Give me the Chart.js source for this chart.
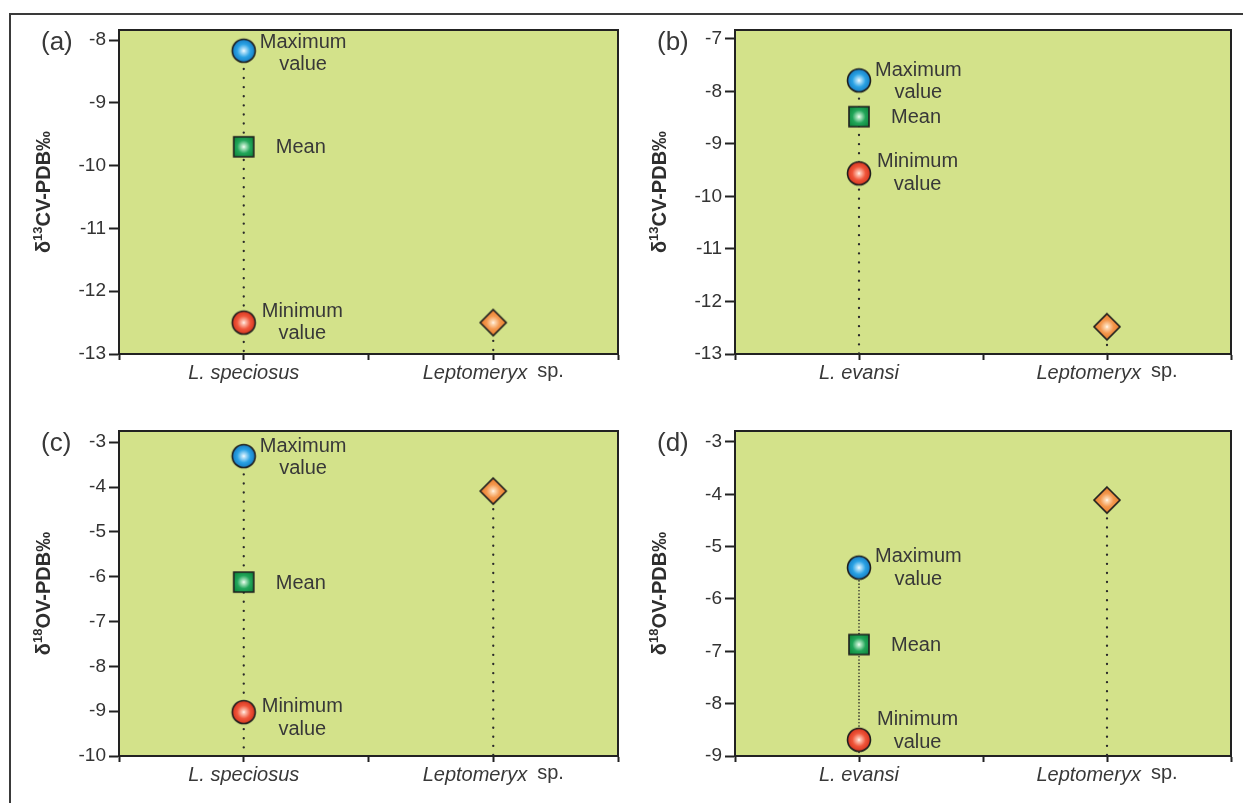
<!DOCTYPE html>
<html>
<head>
<meta charset="utf-8">
<script src="https://cdn.jsdelivr.net/npm/chart.js@4.4.0/dist/chart.umd.min.js"></script>
<style>
    html, body { margin: 0; padding: 0; background: #fff; }
    #page { position: relative; width: 1243px; height: 803px; overflow: hidden; background: #fff; }
    #frame { position: absolute; left: 9px; top: 13px; width: 1300px; height: 900px;
             border-top: 2px solid #3a3a3a; border-left: 2px solid #3a3a3a; }
    canvas { position: absolute; }
</style>
</head>
<body>
<div id="page">
    <div id="frame"></div>
    <canvas id="chart-a" width="610" height="385" style="left:20px;top:15px"></canvas>
    <canvas id="chart-b" width="603" height="385" style="left:640px;top:15px"></canvas>
    <canvas id="chart-c" width="610" height="385" style="left:20px;top:416px"></canvas>
    <canvas id="chart-d" width="603" height="385" style="left:640px;top:416px"></canvas>
</div>
<script>
// Data
const panelLabels = ['(a)', '(b)', '(c)', '(d)'];
const isotopeMass = ['13', '13', '18', '18'];
const isotopeElement = ['C', 'C', 'O', 'O'];
const speciesNames = [
    ['L. speciosus', 'Leptomeryx'],
    ['L. evansi', 'Leptomeryx'],
    ['L. speciosus', 'Leptomeryx'],
    ['L. evansi', 'Leptomeryx']
];
const speciesSuffix = ['', 'sp.'];
const categoryPositions = [1, 3];
const xTicks = [0, 1, 2, 3, 4];

const maxValues = [-8.17, -7.79, -3.31, -5.40];
const meanValues = [-9.70, -8.48, -6.12, -6.87];
const minValues = [-12.50, -9.56, -9.02, -8.69];
const leptoValues = [-12.50, -12.48, -4.09, -4.11];

const yTicks = [
    [-13, -12, -11, -10, -9, -8],
    [-13, -12, -11, -10, -9, -8, -7],
    [-10, -9, -8, -7, -6, -5, -4, -3],
    [-9, -8, -7, -6, -5, -4, -3]
];
const yTops = [-7.84, -6.83, -2.75, -2.79];

// Layout / styling
const FONT = '"Liberation Sans", Arial, sans-serif';
const TEXT = '#383838';
const PLOT_BG = 'rgb(211, 226, 138)';
const canvasIds = ['chart-a', 'chart-b', 'chart-c', 'chart-d'];
const frames = [
    { yWidth: 99, xHeight: 46, padRight: 6 },
    { yWidth: 95, xHeight: 46, padRight: 3 },
    { yWidth: 99, xHeight: 45, padRight: 6 },
    { yWidth: 95, xHeight: 45, padRight: 3 }
];
// vertical offsets of the two-line notes relative to their marker
const noteOffsets = [
    { max: [-8, 14], min: [-11, 11] },
    { max: [-10, 12], min: [-12, 11] },
    { max: [-10, 12], min: [-6, 17] },
    { max: [-11, 12], min: [-20, 3] }
];
const denseRangeLine = [false, false, false, true];

// Glossy marker images
function makeMarker(shape, edge, mid, glow) {
    const size = 30;
    const c = document.createElement('canvas');
    c.width = c.height = size;
    const g = c.getContext('2d');
    const m = size / 2;
    const grad = g.createRadialGradient(m, m, 0, m, m, 12);
    grad.addColorStop(0, '#ffffff');
    grad.addColorStop(0.12, glow);
    grad.addColorStop(0.55, mid);
    grad.addColorStop(1, edge);
    g.beginPath();
    if (shape === 'circle') {
        g.arc(m, m, 11.5, 0, Math.PI * 2);
    } else if (shape === 'square') {
        g.rect(m - 10, m - 10, 20, 20);
    } else {
        g.moveTo(m, m - 13);
        g.lineTo(m + 13, m);
        g.lineTo(m, m + 13);
        g.lineTo(m - 13, m);
        g.closePath();
    }
    g.fillStyle = grad;
    g.fill();
    g.lineWidth = 1.6;
    g.strokeStyle = '#1e1e1e';
    g.stroke();
    return c;
}

const markers = {
    max: makeMarker('circle', '#1579c0', '#2aa2e4', '#bfe6fb'),
    mean: makeMarker('square', '#0f8a3e', '#22a65a', '#bdeccb'),
    min: makeMarker('circle', '#d3321c', '#f0563b', '#ffc9b8'),
    lepto: makeMarker('diamond', '#ea7f2e', '#f4984e', '#ffdcb8')
};

function drawTitle(ctx, x, y, mass, element) {
    const parts = [
        { t: 'δ', f: `bold 20px ${FONT}`, dy: 7 },
        { t: mass, f: `bold 13px ${FONT}`, dy: -1 },
        { t: element + 'V-PDB‰', f: `bold 20px ${FONT}`, dy: 7 }
    ];
    ctx.save();
    ctx.translate(x, y);
    ctx.rotate(-Math.PI / 2);
    ctx.fillStyle = '#2e2e2e';
    ctx.textBaseline = 'alphabetic';
    ctx.textAlign = 'left';
    let total = 0;
    parts.forEach(p => { ctx.font = p.f; p.w = ctx.measureText(p.t).width; total += p.w; });
    let cx = -total / 2;
    parts.forEach(p => {
        ctx.font = p.f;
        ctx.fillText(p.t, cx, p.dy);
        cx += p.w;
    });
    ctx.restore();
}

function makeDecor(i) {
    return {
        id: 'decor' + i,
        beforeDraw(chart) {
            const a = chart.chartArea;
            const ctx = chart.ctx;
            ctx.save();
            ctx.fillStyle = PLOT_BG;
            ctx.fillRect(a.left, a.top, a.right - a.left, a.bottom - a.top);
            ctx.restore();
        },
        beforeDatasetsDraw(chart) {
            const a = chart.chartArea;
            const ctx = chart.ctx;
            ctx.save();
            ctx.strokeStyle = '#222';
            ctx.lineWidth = 2;
            ctx.strokeRect(a.left, a.top, a.right - a.left, a.bottom - a.top);
            ctx.restore();
        },
        afterDraw(chart) {
            const a = chart.chartArea;
            const ctx = chart.ctx;
            const xs = chart.scales.x;
            const ys = chart.scales.y;
            const off = noteOffsets[i];

            ctx.save();
            ctx.fillStyle = TEXT;
            ctx.textBaseline = 'middle';
            ctx.font = `20px ${FONT}`;

            // notes beside the markers
            const x1 = xs.getPixelForValue(categoryPositions[0]);
            const pMax = ys.getPixelForValue(maxValues[i]);
            const pMean = ys.getPixelForValue(meanValues[i]);
            const pMin = ys.getPixelForValue(minValues[i]);

            ctx.textAlign = 'left';
            const wMax = ctx.measureText('Maximum').width;
            ctx.fillText('Maximum', x1 + 16, pMax + off.max[0]);
            ctx.textAlign = 'center';
            ctx.fillText('value', x1 + 16 + wMax / 2, pMax + off.max[1]);

            ctx.textAlign = 'left';
            ctx.fillText('Mean', x1 + 32, pMean + 1);

            const wMin = ctx.measureText('Minimum').width;
            ctx.fillText('Minimum', x1 + 18, pMin + off.min[0]);
            ctx.textAlign = 'center';
            ctx.fillText('value', x1 + 18 + wMin / 2, pMin + off.min[1]);

            // category labels: italic genus/species, upright "sp."
            ctx.textBaseline = 'alphabetic';
            ctx.textAlign = 'left';
            categoryPositions.forEach((pos, k) => {
                const name = speciesNames[i][k];
                const suffix = speciesSuffix[k];
                ctx.font = `italic 20px ${FONT}`;
                const wName = ctx.measureText(name).width;
                ctx.font = `20px ${FONT}`;
                const gap = suffix ? 10 : 0;
                const wSuf = suffix ? ctx.measureText(suffix).width : 0;
                const start = xs.getPixelForValue(pos) - (wName + gap + wSuf) / 2;
                ctx.font = `italic 20px ${FONT}`;
                ctx.fillText(name, start, a.bottom + 25);
                if (suffix) {
                    ctx.font = `20px ${FONT}`;
                    ctx.fillText(suffix, start + wName + gap, a.bottom + 23);
                }
            });

            // panel letter
            ctx.font = `26px ${FONT}`;
            ctx.textBaseline = 'middle';
            ctx.fillText(panelLabels[i], a.left - 78, a.top + 13);
            ctx.restore();

            drawTitle(ctx, a.left - 76, (a.top + a.bottom) / 2, isotopeMass[i], isotopeElement[i]);
        }
    };
}

function dottedLine(data, dense) {
    return {
        data: data,
        showLine: true,
        fill: false,
        pointRadius: 0,
        borderColor: '#2a2a2a',
        borderWidth: dense ? 1.6 : 2.3,
        borderDash: dense ? [0.1, 3.2] : [0.1, 9],
        borderCapStyle: 'round',
        order: 1
    };
}

function markerSet(label, data, img) {
    return {
        label: label,
        data: data,
        pointStyle: img,
        pointRadius: 11,
        order: 0
    };
}

function buildChart(i) {
    const ctx = document.getElementById(canvasIds[i]).getContext('2d');
    const yMin = yTicks[i][0];
    const frame = frames[i];

    return new Chart(ctx, {
        type: 'scatter',
        data: {
            datasets: [
                markerSet('Maximum value', [{ x: categoryPositions[0], y: maxValues[i] }], markers.max),
                markerSet('Mean', [{ x: categoryPositions[0], y: meanValues[i] }], markers.mean),
                markerSet('Minimum value', [{ x: categoryPositions[0], y: minValues[i] }], markers.min),
                markerSet('Leptomeryx sp.', [{ x: categoryPositions[1], y: leptoValues[i] }], markers.lepto),
                dottedLine([{ x: categoryPositions[0], y: maxValues[i] }, { x: categoryPositions[0], y: yMin }], denseRangeLine[i]),
                dottedLine([{ x: categoryPositions[1], y: leptoValues[i] }, { x: categoryPositions[1], y: yMin }], false)
            ]
        },
        options: {
            responsive: false,
            animation: false,
            events: [],
            layout: { padding: { left: 0, right: frame.padRight, top: 15, bottom: 0 } },
            plugins: {
                legend: { display: false },
                tooltip: { enabled: false }
            },
            scales: {
                x: {
                    type: 'linear',
                    min: xTicks[0],
                    max: xTicks[xTicks.length - 1],
                    afterBuildTicks: s => { s.ticks = xTicks.map(v => ({ value: v })); },
                    afterFit: s => { s.height = frame.xHeight; },
                    ticks: { autoSkip: false, padding: 0, callback: () => '' },
                    grid: { drawOnChartArea: false, drawTicks: true, tickLength: 6, tickColor: '#222', tickWidth: 2 },
                    border: { display: true, color: '#222', width: 2 }
                },
                y: {
                    type: 'linear',
                    min: yMin,
                    max: yTops[i],
                    afterBuildTicks: s => { s.ticks = yTicks[i].map(v => ({ value: v })); },
                    afterFit: s => { s.width = frame.yWidth; },
                    ticks: {
                        autoSkip: false,
                        padding: 3,
                        color: '#333',
                        font: { family: FONT, size: 19 },
                        callback: v => String(v)
                    },
                    grid: { drawOnChartArea: false, drawTicks: true, tickLength: 10, tickColor: '#222', tickWidth: 2 },
                    border: { display: true, color: '#222', width: 2 }
                }
            }
        },
        plugins: [makeDecor(i)]
    });
}

panelLabels.forEach((_, i) => buildChart(i));
</script>
</body>
</html>
